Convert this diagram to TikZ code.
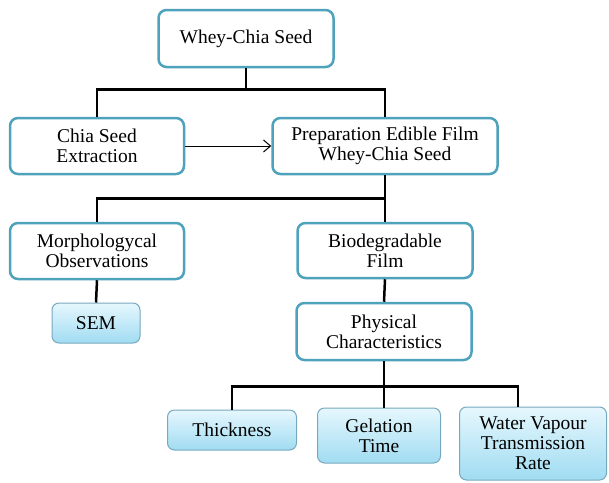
\documentclass[tikz,border=0pt]{standalone}
\usepackage{fontspec}
\setmainfont{Liberation Serif}
\usetikzlibrary{arrows.meta,calc}
\definecolor{boxline}{RGB}{78,162,188}
\definecolor{leaftop}{RGB}{230,247,253}
\definecolor{leafbot}{RGB}{160,220,242}
\definecolor{leafline}{RGB}{120,168,190}
\begin{document}
\begin{tikzpicture}[x=1pt,y=-1pt,
  box/.style={draw=boxline,line width=2.5pt,rounded corners=8pt,fill=white,
    align=center,inner sep=2pt,font=\fontsize{19.5}{20}\selectfont},
  leaf/.style={draw=leafline,line width=1pt,rounded corners=7pt,
    top color=leaftop,bottom color=leafbot,
    align=center,inner sep=2pt,font=\fontsize{19.5}{20}\selectfont},
  link/.style={line width=2.5pt}]
\useasboundingbox (0,0) rectangle (609,482);
\node[box,minimum width=175pt,minimum height=57pt] (seed) at (246,38.5) {Whey-Chia Seed};
\node[box,minimum width=174pt,minimum height=56pt] (chia) at (97,146) {Chia Seed\\Extraction};
\node[box,minimum width=225pt,minimum height=56pt] (prep) at (385,146) {Preparation Edible Film\\Whey-Chia Seed};
\node[box,minimum width=174pt,minimum height=56pt] (morph) at (97,251) {Morphologycal\\Observations};
\node[box,minimum width=175pt,minimum height=55pt] (bio) at (385,250.5) {Biodegradable\\Film};
\node[leaf,minimum width=88pt,minimum height=40pt] (sem) at (96,323) {SEM};
\node[box,minimum width=175pt,minimum height=57pt] (phys) at (384,331.5) {Physical\\Characteristics};
\node[leaf,minimum width=129pt,minimum height=40pt] (thick) at (232,430) {Thickness};
\node[leaf,minimum width=123pt,minimum height=55pt] (gel) at (379,435.5) {Gelation\\Time};
\node[leaf,minimum width=147pt,minimum height=73pt] (wvtr) at (533,443.5) {Water Vapour\\Transmission\\Rate};

\draw[link] (seed.south) -- ++(0,21) coordinate (fork1);
\draw[link] (chia.north) |- (fork1) -| (prep.north);
\draw[link] (prep.south) -- (bio.north);
\draw[link] (morph.north) |- ($(prep.south)!.5!(bio.north)$);
\draw[link] (morph.south) -- (sem.north);
\draw[link] (bio.south) -- (phys.north);
\draw[link] (phys.south) -- ++(0,25) coordinate (fork3);
\draw[link] (fork3) -- (fork3 |- gel.north);
\draw[link] (thick.north) |- (fork3) -| ([xshift=-15pt]wvtr.north);
\draw[line width=1pt,-{Straight Barb[length=7pt,width=12pt]}] (chia.east) -- (prep.west);
\end{tikzpicture}
\end{document}
